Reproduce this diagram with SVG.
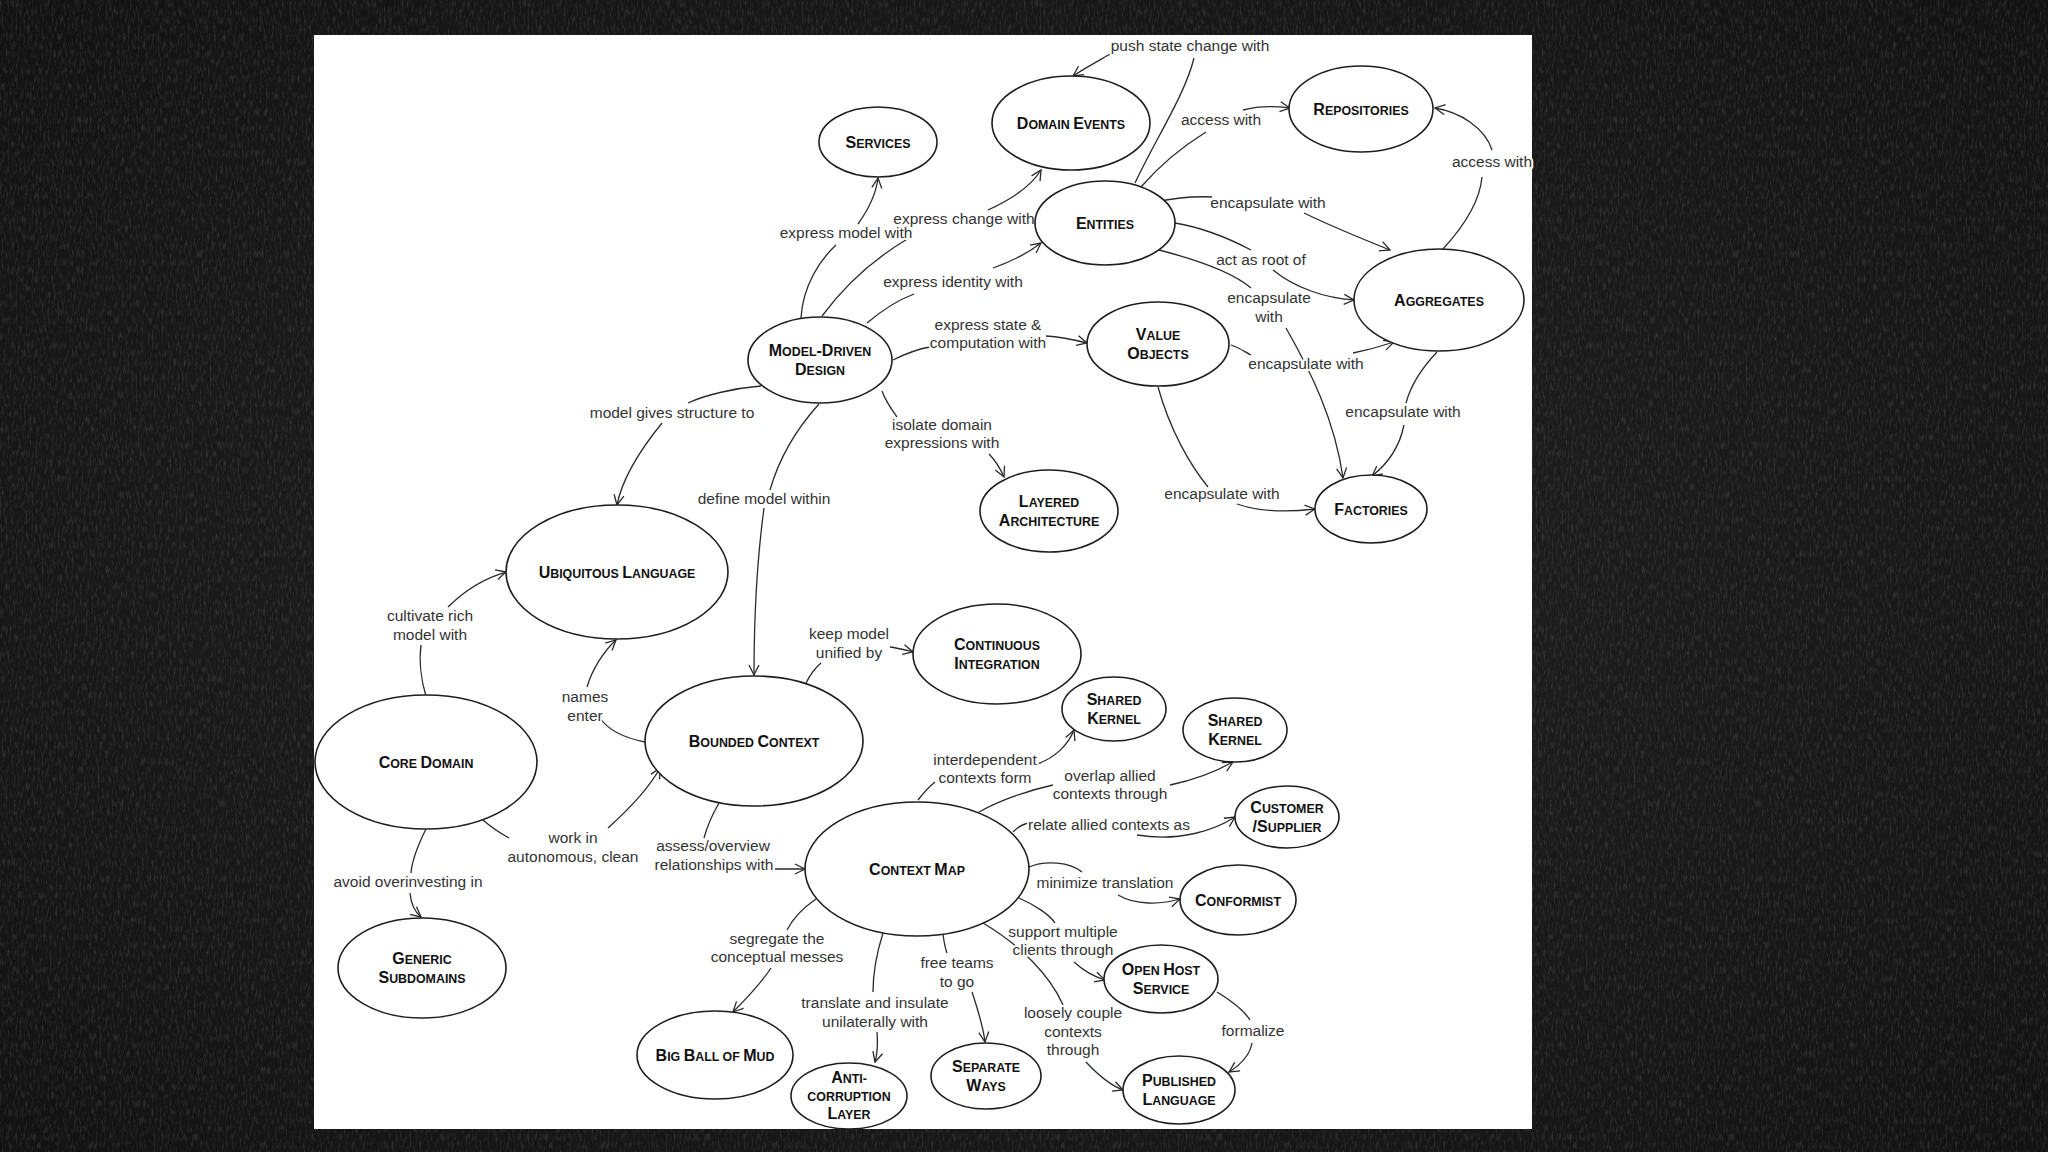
<svg xmlns="http://www.w3.org/2000/svg" width="2048" height="1152" viewBox="0 0 2048 1152">
<defs>
<filter id="chalk" x="0" y="0" width="100%" height="100%">
<feTurbulence type="fractalNoise" baseFrequency="0.5 0.12" numOctaves="3" seed="4" result="n"/>
<feColorMatrix in="n" type="matrix" values="0 0 0 0 0.4  0 0 0 0 0.4  0 0 0 0 0.4  0 0 0 -2.6 1.4" />
</filter>
<radialGradient id="bg" cx="50%" cy="50%" r="75%">
<stop offset="0" stop-color="#222"/>
<stop offset="1" stop-color="#111"/>
</radialGradient>
<marker id="arr" viewBox="0 0 12 12" refX="11" refY="6" markerWidth="12" markerHeight="12" markerUnits="userSpaceOnUse" orient="auto">
<path d="M1,1 L11,6 L1,11" fill="none" stroke="#2a2a2a" stroke-width="1.3"/>
</marker>
<style>
.node ellipse{fill:#fff;stroke:#1e1e1e;stroke-width:1.6}
.n{font-family:"Liberation Sans",Arial,sans-serif;font-weight:bold;font-size:12.4px;fill:#111;text-anchor:middle}
.b{font-size:16px}
.l{font-family:"Liberation Sans",Arial,sans-serif;font-size:15.5px;fill:#333;text-anchor:middle;stroke:#fff;stroke-width:4;paint-order:stroke;stroke-linejoin:round}
#connectors path{fill:none;stroke:#2a2a2a;stroke-width:1.3;marker-end:url(#arr)}
</style>
</defs>
<rect x="0" y="0" width="2048" height="1152" fill="url(#bg)"/>
<rect x="0" y="0" width="2048" height="1152" filter="url(#chalk)" opacity="0.18"/>
<rect x="314" y="35" width="1218" height="1094" fill="#fff"/>

<g id="connectors">
<path d="M801,318 C803,285 820,260 836,245 M858,224 C868,210 876,195 878,178"/>
<path d="M822,316 C845,285 875,258 909,238 M988,210 C1010,200 1030,188 1041,170"/>
<path d="M867,323 C880,312 898,300 914,294 M993,268 C1010,262 1028,253 1041,243"/>
<path d="M893,360 C905,354 918,349 930,347 M1046,336 C1062,337 1075,340 1087,343"/>
<path d="M761,386 C735,388 705,395 688,403 M662,423 C640,450 622,480 617,505"/>
<path d="M819,404 C800,425 780,455 770,490 M764,508 C757,560 754,620 754,675"/>
<path d="M882,391 C886,402 892,410 897,417 M989,454 C995,460 1000,468 1004,477"/>
<path d="M1135,183 C1155,140 1185,95 1194,58 M1112,53 C1100,60 1085,68 1073,76"/>
<path d="M1141,187 C1160,165 1185,145 1206,132 M1243,110 C1258,106 1275,106 1290,108"/>
<path d="M1155,202 C1175,198 1195,196 1212,197 M1304,213 C1335,228 1365,240 1390,250"/>
<path d="M1175,223 C1205,228 1232,240 1251,250 M1273,270 C1295,288 1325,298 1354,300"/>
<path d="M1159,250 C1190,258 1230,270 1251,288 M1286,328 C1310,370 1335,420 1343,478"/>
<path d="M1231,345 C1240,348 1245,352 1251,355 M1353,353 C1368,350 1382,346 1394,342"/>
<path d="M1158,387 C1170,430 1190,465 1208,487 M1237,504 C1260,512 1290,512 1315,509"/>
<path d="M1437,352 C1420,370 1410,388 1406,403 M1404,425 C1400,445 1390,462 1372,476"/>
<path d="M1443,249 C1465,225 1480,200 1482,177 M1492,150 C1485,128 1460,112 1435,108"/>
<path d="M426,696 C421,680 419,660 421,645 M448,607 C465,590 485,578 506,572"/>
<path d="M645,742 C625,738 608,730 600,718 M587,687 C592,670 603,652 616,640"/>
<path d="M483,820 C492,828 500,833 509,838 M608,828 C628,810 648,790 660,768"/>
<path d="M426,829 C418,845 412,860 411,873 M410,893 C411,905 415,912 421,917"/>
<path d="M806,683 C810,675 815,668 821,663 M890,647 C898,648 905,650 913,652"/>
<path d="M719,803 C712,815 707,827 704,838 M775,869 L805,869"/>
<path d="M918,800 C925,791 930,786 935,782 M1037,764 C1055,758 1068,745 1074,730"/>
<path d="M979,812 C1000,800 1030,790 1053,785 M1170,785 C1195,780 1215,772 1233,762"/>
<path d="M1013,832 C1018,827 1023,824 1029,823 M1137,835 C1180,842 1215,830 1235,817"/>
<path d="M1029,867 C1045,860 1070,862 1082,872 M1118,895 C1135,905 1160,905 1180,899"/>
<path d="M1019,898 C1035,905 1050,915 1055,923 M1074,962 C1085,972 1095,977 1105,980"/>
<path d="M983,923 C1020,945 1050,975 1063,1005 M1086,1062 C1098,1075 1110,1085 1123,1090"/>
<path d="M943,934 C944,942 945,948 947,953 M972,992 C978,1010 983,1025 985,1042"/>
<path d="M883,933 C876,955 873,975 873,992 M877,1032 C878,1045 877,1055 875,1062"/>
<path d="M816,899 C800,910 792,920 787,930 M771,968 C760,985 745,1000 733,1012"/>
<path d="M1217,992 C1235,1003 1245,1012 1250,1020 M1252,1043 C1250,1055 1240,1065 1229,1072"/>
</g>

<g id="labels">
<text class="l" x="1190" y="51">push state change with</text>
<text class="l" x="1221" y="125">access with</text>
<text class="l" x="1492" y="167">access with</text>
<text class="l" x="1268" y="208">encapsulate with</text>
<text class="l" x="1261" y="265">act as root of</text>
<text class="l" x="1269" y="303">encapsulate</text>
<text class="l" x="1269" y="322">with</text>
<text class="l" x="1306" y="369">encapsulate with</text>
<text class="l" x="1403" y="417">encapsulate with</text>
<text class="l" x="1222" y="499">encapsulate with</text>
<text class="l" x="964" y="224">express change with</text>
<text class="l" x="953" y="287">express identity with</text>
<text class="l" x="846" y="238">express model with</text>
<text class="l" x="988" y="330">express state &amp;</text>
<text class="l" x="988" y="348">computation with</text>
<text class="l" x="942" y="430">isolate domain</text>
<text class="l" x="942" y="448">expressions with</text>
<text class="l" x="672" y="418">model gives structure to</text>
<text class="l" x="764" y="504">define model within</text>
<text class="l" x="430" y="621">cultivate rich</text>
<text class="l" x="430" y="640">model with</text>
<text class="l" x="585" y="702">names</text>
<text class="l" x="585" y="721">enter</text>
<text class="l" x="849" y="639">keep model</text>
<text class="l" x="849" y="658">unified by</text>
<text class="l" x="573" y="843">work in</text>
<text class="l" x="573" y="862">autonomous, clean</text>
<text class="l" x="713" y="851">assess/overview</text>
<text class="l" x="714" y="870">relationships with</text>
<text class="l" x="408" y="887">avoid overinvesting in</text>
<text class="l" x="777" y="944">segregate the</text>
<text class="l" x="777" y="962">conceptual messes</text>
<text class="l" x="875" y="1008">translate and insulate</text>
<text class="l" x="875" y="1027">unilaterally with</text>
<text class="l" x="985" y="765">interdependent</text>
<text class="l" x="985" y="783">contexts form</text>
<text class="l" x="1110" y="781">overlap allied</text>
<text class="l" x="1110" y="799">contexts through</text>
<text class="l" x="1109" y="830">relate allied contexts as</text>
<text class="l" x="1105" y="888">minimize translation</text>
<text class="l" x="1063" y="937">support multiple</text>
<text class="l" x="1063" y="955">clients through</text>
<text class="l" x="957" y="968">free teams</text>
<text class="l" x="957" y="987">to go</text>
<text class="l" x="1073" y="1018">loosely couple</text>
<text class="l" x="1073" y="1037">contexts</text>
<text class="l" x="1073" y="1055">through</text>
<text class="l" x="1253" y="1036">formalize</text>
</g>

<g id="services" class="node"><ellipse cx="878" cy="142" rx="59" ry="35"/><text class="n" x="878" y="148"><tspan class="b">S</tspan>ERVICES</text></g>
<g id="domain-events" class="node"><ellipse cx="1071" cy="123" rx="79" ry="47"/><text class="n" x="1071" y="129"><tspan class="b">D</tspan>OMAIN <tspan class="b">E</tspan>VENTS</text></g>
<g id="repositories" class="node"><ellipse cx="1361" cy="109" rx="72" ry="43"/><text class="n" x="1361" y="115"><tspan class="b">R</tspan>EPOSITORIES</text></g>
<g id="entities" class="node"><ellipse cx="1105" cy="223" rx="70" ry="42"/><text class="n" x="1105" y="229"><tspan class="b">E</tspan>NTITIES</text></g>
<g id="aggregates" class="node"><ellipse cx="1439" cy="300" rx="85" ry="51"/><text class="n" x="1439" y="306"><tspan class="b">A</tspan>GGREGATES</text></g>
<g id="value-objects" class="node"><ellipse cx="1158" cy="344" rx="71" ry="42"/><text class="n" x="1158" y="340"><tspan class="b">V</tspan>ALUE</text><text class="n" x="1158" y="359"><tspan class="b">O</tspan>BJECTS</text></g>
<g id="model-driven-design" class="node"><ellipse cx="820" cy="360" rx="72" ry="43"/><text class="n" x="820" y="356"><tspan class="b">M</tspan>ODEL<tspan class="b">-D</tspan>RIVEN</text><text class="n" x="820" y="375"><tspan class="b">D</tspan>ESIGN</text></g>
<g id="layered-architecture" class="node"><ellipse cx="1049" cy="511" rx="69" ry="41"/><text class="n" x="1049" y="507"><tspan class="b">L</tspan>AYERED</text><text class="n" x="1049" y="526"><tspan class="b">A</tspan>RCHITECTURE</text></g>
<g id="factories" class="node"><ellipse cx="1371" cy="509" rx="56" ry="34"/><text class="n" x="1371" y="515"><tspan class="b">F</tspan>ACTORIES</text></g>
<g id="ubiquitous-language" class="node"><ellipse cx="617" cy="572" rx="111" ry="67"/><text class="n" x="617" y="578"><tspan class="b">U</tspan>BIQUITOUS <tspan class="b">L</tspan>ANGUAGE</text></g>
<g id="continuous-integration" class="node"><ellipse cx="997" cy="654" rx="84" ry="50"/><text class="n" x="997" y="650"><tspan class="b">C</tspan>ONTINUOUS</text><text class="n" x="997" y="669"><tspan class="b">I</tspan>NTEGRATION</text></g>
<g id="core-domain" class="node"><ellipse cx="426" cy="762" rx="111" ry="67"/><text class="n" x="426" y="768"><tspan class="b">C</tspan>ORE <tspan class="b">D</tspan>OMAIN</text></g>
<g id="bounded-context" class="node"><ellipse cx="754" cy="741" rx="109" ry="65"/><text class="n" x="754" y="747"><tspan class="b">B</tspan>OUNDED <tspan class="b">C</tspan>ONTEXT</text></g>
<g id="generic-subdomains" class="node"><ellipse cx="422" cy="968" rx="84" ry="50"/><text class="n" x="422" y="964"><tspan class="b">G</tspan>ENERIC</text><text class="n" x="422" y="983"><tspan class="b">S</tspan>UBDOMAINS</text></g>
<g id="context-map" class="node"><ellipse cx="917" cy="869" rx="112" ry="67"/><text class="n" x="917" y="875"><tspan class="b">C</tspan>ONTEXT <tspan class="b">M</tspan>AP</text></g>
<g id="shared-kernel-1" class="node"><ellipse cx="1114" cy="709" rx="52" ry="32"/><text class="n" x="1114" y="705"><tspan class="b">S</tspan>HARED</text><text class="n" x="1114" y="724"><tspan class="b">K</tspan>ERNEL</text></g>
<g id="shared-kernel-2" class="node"><ellipse cx="1235" cy="730" rx="52" ry="32"/><text class="n" x="1235" y="726"><tspan class="b">S</tspan>HARED</text><text class="n" x="1235" y="745"><tspan class="b">K</tspan>ERNEL</text></g>
<g id="customer-supplier" class="node"><ellipse cx="1287" cy="817" rx="52" ry="31"/><text class="n" x="1287" y="813"><tspan class="b">C</tspan>USTOMER</text><text class="n" x="1287" y="832"><tspan class="b">/S</tspan>UPPLIER</text></g>
<g id="conformist" class="node"><ellipse cx="1238" cy="900" rx="58" ry="35"/><text class="n" x="1238" y="906"><tspan class="b">C</tspan>ONFORMIST</text></g>
<g id="open-host-service" class="node"><ellipse cx="1161" cy="979" rx="57" ry="34"/><text class="n" x="1161" y="975"><tspan class="b">O</tspan>PEN <tspan class="b">H</tspan>OST</text><text class="n" x="1161" y="994"><tspan class="b">S</tspan>ERVICE</text></g>
<g id="published-language" class="node"><ellipse cx="1179" cy="1090" rx="56" ry="34"/><text class="n" x="1179" y="1086"><tspan class="b">P</tspan>UBLISHED</text><text class="n" x="1179" y="1105"><tspan class="b">L</tspan>ANGUAGE</text></g>
<g id="separate-ways" class="node"><ellipse cx="986" cy="1076" rx="55" ry="33"/><text class="n" x="986" y="1072"><tspan class="b">S</tspan>EPARATE</text><text class="n" x="986" y="1091"><tspan class="b">W</tspan>AYS</text></g>
<g id="big-ball-of-mud" class="node"><ellipse cx="715" cy="1055" rx="78" ry="44"/><text class="n" x="715" y="1061"><tspan class="b">B</tspan>IG <tspan class="b">B</tspan>ALL OF <tspan class="b">M</tspan>UD</text></g>
<g id="anti-corruption-layer" class="node"><ellipse cx="849" cy="1096" rx="58" ry="33"/><text class="n" x="849" y="1083"><tspan class="b">A</tspan>NTI-</text><text class="n" x="849" y="1101">CORRUPTION</text><text class="n" x="849" y="1119"><tspan class="b">L</tspan>AYER</text></g>
</svg>
